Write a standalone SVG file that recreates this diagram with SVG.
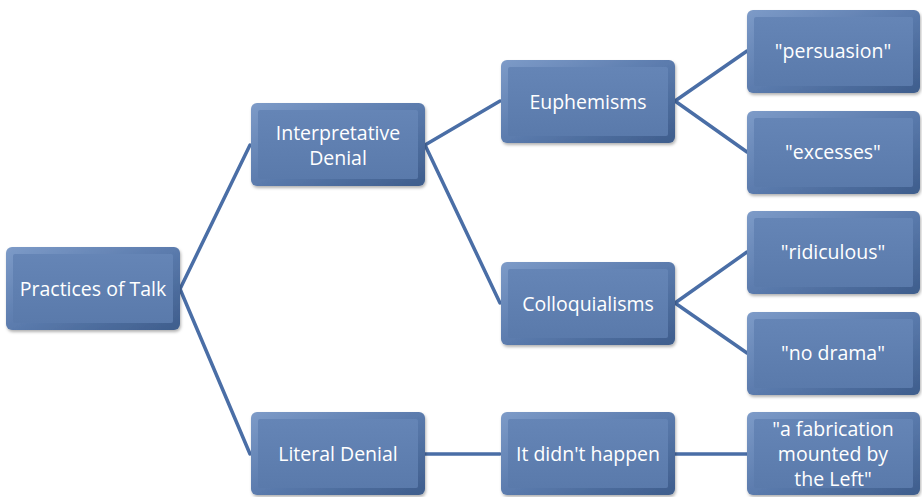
<svg xmlns="http://www.w3.org/2000/svg" width="922" height="497" viewBox="0 0 922 497">
<defs>
<linearGradient id="edge" x1="0" y1="0" x2="1" y2="1">
<stop offset="0" stop-color="#7d9bc8"/>
<stop offset="0.5" stop-color="#5b7bad"/>
<stop offset="1" stop-color="#3e5d8c"/>
</linearGradient>
<linearGradient id="face" x1="0" y1="0" x2="0" y2="1">
<stop offset="0" stop-color="#6585b6"/>
<stop offset="1" stop-color="#5a7aab"/>
</linearGradient>
<filter id="sh" x="-10%" y="-10%" width="120%" height="130%">
<feDropShadow dx="1" dy="2" stdDeviation="1.5" flood-color="#000" flood-opacity="0.3"/>
</filter>
</defs>
<style>
.b{fill:url(#edge);filter:url(#sh)}
.f{fill:url(#face)}
.t{font-family:"Open Sans","Liberation Sans",sans-serif;font-size:19.5px;fill:#fff;text-anchor:middle}
.c line{stroke:#4a6ea6;stroke-width:3.5;stroke-linecap:round}
</style>
<g class="c" id="connectors">
<line x1="180" y1="289" x2="250" y2="145"/>
<line x1="180" y1="289" x2="250" y2="454"/>
<line x1="425" y1="145" x2="500" y2="101"/>
<line x1="425" y1="145" x2="500" y2="303"/>
<line x1="675" y1="101" x2="747" y2="51"/>
<line x1="675" y1="101" x2="747" y2="152"/>
<line x1="675" y1="303" x2="747" y2="252"/>
<line x1="675" y1="303" x2="747" y2="353"/>
<line x1="425" y1="454" x2="500" y2="454"/>
<line x1="675" y1="454" x2="747" y2="454"/>
</g>
<g id="practices"><rect class="b" x="6" y="247" width="174" height="83" rx="6"/><rect class="f" x="13" y="254" width="160" height="69" rx="2"/><text class="t" x="93" y="296">Practices of Talk</text></g>
<g id="interpretative"><rect class="b" x="251" y="103" width="174" height="83" rx="6"/><rect class="f" x="258" y="110" width="160" height="69" rx="2"/><text class="t" x="338" y="140">Interpretative</text><text class="t" x="338" y="165">Denial</text></g>
<g id="literal"><rect class="b" x="251" y="412" width="174" height="83" rx="6"/><rect class="f" x="258" y="419" width="160" height="69" rx="2"/><text class="t" x="338" y="461">Literal Denial</text></g>
<g id="euphemisms"><rect class="b" x="501" y="60" width="174" height="83" rx="6"/><rect class="f" x="508" y="67" width="160" height="69" rx="2"/><text class="t" x="588" y="109">Euphemisms</text></g>
<g id="colloquialisms"><rect class="b" x="501" y="262" width="174" height="83" rx="6"/><rect class="f" x="508" y="269" width="160" height="69" rx="2"/><text class="t" x="588" y="311">Colloquialisms</text></g>
<g id="didnt"><rect class="b" x="501" y="412" width="174" height="83" rx="6"/><rect class="f" x="508" y="419" width="160" height="69" rx="2"/><text class="t" x="588" y="461">It didn't happen</text></g>
<g id="persuasion"><rect class="b" x="747" y="10" width="173" height="83" rx="6"/><rect class="f" x="754" y="17" width="159" height="69" rx="2"/><text class="t" x="833" y="58">"persuasion"</text></g>
<g id="excesses"><rect class="b" x="747" y="111" width="173" height="83" rx="6"/><rect class="f" x="754" y="118" width="159" height="69" rx="2"/><text class="t" x="833" y="159">"excesses"</text></g>
<g id="ridiculous"><rect class="b" x="747" y="211" width="173" height="83" rx="6"/><rect class="f" x="754" y="218" width="159" height="69" rx="2"/><text class="t" x="833" y="259">"ridiculous"</text></g>
<g id="nodrama"><rect class="b" x="747" y="312" width="173" height="83" rx="6"/><rect class="f" x="754" y="319" width="159" height="69" rx="2"/><text class="t" x="833" y="360">"no drama"</text></g>
<g id="fabrication"><rect class="b" x="747" y="412" width="173" height="83" rx="6"/><rect class="f" x="754" y="419" width="159" height="69" rx="2"/><text class="t" x="833" y="436">"a fabrication</text><text class="t" x="833" y="461">mounted by</text><text class="t" x="833" y="486">the Left"</text></g>
</svg>
